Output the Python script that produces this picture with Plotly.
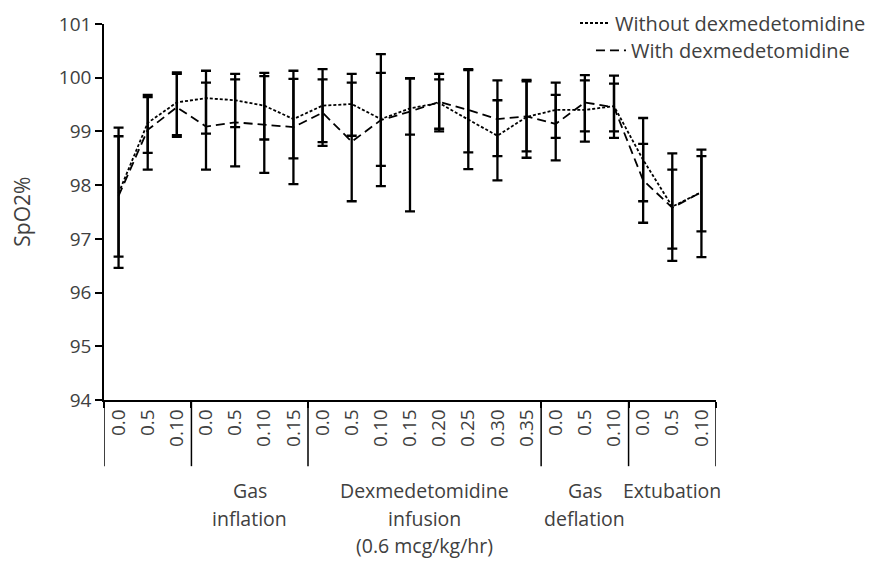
import plotly.graph_objects as go

# ---------------- data ----------------
tick_labels = ["0.0", "0.5", "0.10",
               "0.0", "0.5", "0.10", "0.15",
               "0.0", "0.5", "0.10", "0.15", "0.20", "0.25", "0.30", "0.35",
               "0.0", "0.5", "0.10",
               "0.0", "0.5", "0.10"]
group_sizes = [3, 4, 8, 3, 3]
group_label_lines = [[], ["Gas", "inflation"],
                     ["Dexmedetomidine", "infusion", "(0.6 mcg/kg/hr)"],
                     ["Gas", "deflation"], ["Extubation"]]

without_mean = [97.85, 99.16, 99.54, 99.62, 99.58, 99.48, 99.23, 99.48, 99.51, 99.23, 99.43,
                99.53, 99.22, 98.92, 99.27, 99.40, 99.40, 99.47, 98.47, 97.60, 97.87]
without_upper = [99.07, 99.68, 100.10, 100.13, 100.07, 100.09, 99.98, 100.16, 100.07, 100.09, 99.99,
                 100.07, 100.14, 99.58, 99.96, 99.91, 99.95, 100.04, 99.25, 98.59, 98.66]
without_lower = [96.67, 98.60, 98.93, 98.96, 99.08, 98.85, 98.50, 98.80, 98.92, 98.36, 98.94,
                 99.00, 98.30, 98.09, 98.51, 98.88, 98.81, 98.88, 97.70, 96.59, 96.66]

with_mean = [97.80, 99.03, 99.45, 99.09, 99.17, 99.12, 99.08, 99.35, 98.81, 99.21, 99.37,
             99.55, 99.40, 99.23, 99.28, 99.14, 99.54, 99.45, 98.09, 97.58, 97.87]
with_upper = [98.91, 99.64, 100.07, 99.91, 99.97, 100.03, 100.13, 99.97, 99.91, 100.44, 99.99,
              99.97, 100.16, 99.95, 99.93, 99.68, 100.05, 99.89, 98.77, 98.29, 98.54]
with_lower = [96.46, 98.29, 98.90, 98.29, 98.35, 98.23, 98.02, 98.73, 97.70, 97.98, 97.51,
              99.05, 98.61, 98.54, 98.63, 98.46, 99.00, 99.00, 97.30, 96.82, 97.14]

series_names = ["Without dexmedetomidine", "With dexmedetomidine"]
y_ticks = [94, 95, 96, 97, 98, 99, 100, 101]

# ---------------- figure ----------------
FONT = "Open Sans"
TXT = "#404040"
FS = 19

x = list(range(len(tick_labels)))


def errs(mean, upper, lower):
    return ([u - m for u, m in zip(upper, mean)], [m - l for m, l in zip(mean, lower)])


fig = go.Figure()
for name, mean, up, lo, dash, leg in [
    (series_names[0], without_mean, without_upper, without_lower, "3px,2px", "legend"),
    (series_names[1], with_mean, with_upper, with_lower, "9px,5px", "legend2"),
]:
    plus, minus = errs(mean, up, lo)
    fig.add_trace(go.Scatter(
        x=x, y=mean, name=name, mode="lines",
        line=dict(color="black", width=1.8, dash=dash),
        error_y=dict(type="data", symmetric=False, array=plus, arrayminus=minus,
                     color="black", thickness=2.3, width=5),
        legend=leg,
    ))

# group boundaries
bounds = [-0.5]
for s in group_sizes:
    bounds.append(bounds[-1] + s)

for b in bounds:
    fig.add_shape(type="line", xref="x", yref="paper", x0=b, x1=b, y0=0, y1=-0.176,
                  line=dict(color="black", width=1.5), layer="above")

# group labels
line_y0 = -0.2413
line_dy = 0.0730
for i, lines in enumerate(group_label_lines):
    cx = (bounds[i] + bounds[i + 1]) / 2
    for j, t in enumerate(lines):
        fig.add_annotation(x=cx, y=line_y0 - j * line_dy, xref="x", yref="paper",
                           text=t, showarrow=False, xanchor="center", yanchor="middle",
                           font=dict(family=FONT, size=19.5, color=TXT))

# y title
fig.add_annotation(x=-0.1345, y=0.5, xref="paper", yref="paper", text="SpO2%",
                   textangle=-90, showarrow=False, xanchor="center", yanchor="middle",
                   font=dict(family=FONT, size=21, color=TXT))

fig.update_layout(
    width=887, height=561,
    margin=dict(l=104, r=171, t=24, b=160.5, autoexpand=False),
    plot_bgcolor="white", paper_bgcolor="white",
    font=dict(family=FONT, size=FS, color=TXT),
    showlegend=True,
    legend=dict(x=1.0114, y=1.0027, xanchor="center", yanchor="middle",
                bgcolor="rgba(0,0,0,0)", font=dict(family=FONT, size=20, color=TXT),
                itemwidth=30),
    legend2=dict(x=1.0114, y=0.9296, xanchor="center", yanchor="middle",
                 bgcolor="rgba(0,0,0,0)", font=dict(family=FONT, size=20, color=TXT),
                 itemwidth=30),
    xaxis=dict(range=[-0.5, len(tick_labels) - 0.5], tickmode="array", tickvals=x,
               ticktext=tick_labels, tickangle=-90, ticks="", showgrid=False, zeroline=False,
               showline=True, linecolor="black", linewidth=1.5,
               tickfont=dict(family=FONT, size=FS, color=TXT),
               minor=dict(tickmode="array", tickvals=bounds, ticks="outside", ticklen=6,
                          tickcolor="black", tickwidth=1.5, showgrid=False)),
    yaxis=dict(range=[94, 101], tickmode="array", tickvals=y_ticks, ticks="outside",
               ticklen=7, tickcolor="black", tickwidth=1.5, showgrid=False, zeroline=False,
               showline=True, linecolor="black", linewidth=1.5,
               tickfont=dict(family=FONT, size=FS, color=TXT)),
)

fig.write_html("out.html")
